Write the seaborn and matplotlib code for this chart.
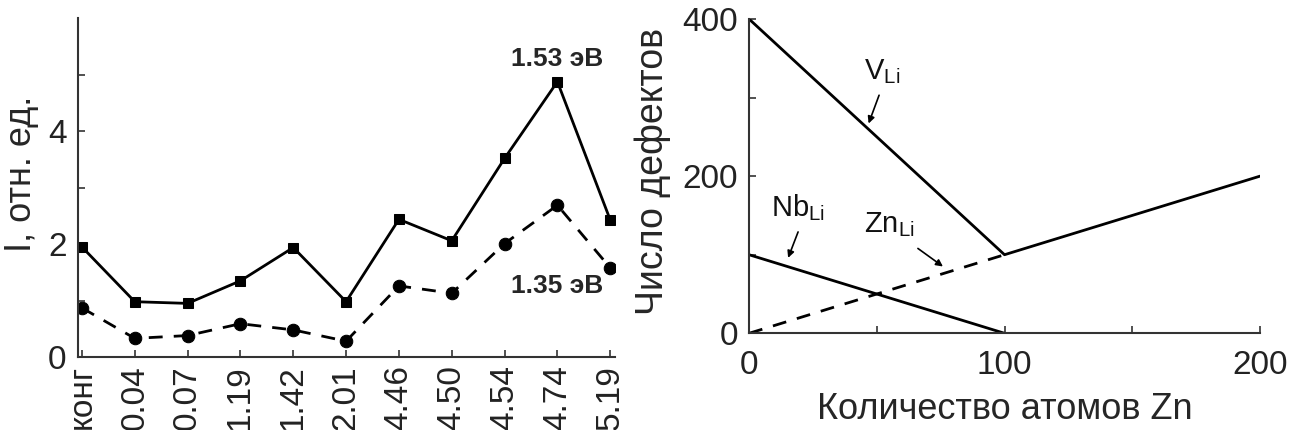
import numpy as np
import pandas as pd
import matplotlib
matplotlib.use("Agg")
import matplotlib.pyplot as plt
import seaborn as sns

# Left panel: intensity vs Zn concentration
conc_labels = ["конг", "0.04", "0.07", "1.19", "1.42", "2.01",
               "4.46", "4.50", "4.54", "4.74", "5.19"]
i_153 = [1.95, 0.98, 0.95, 1.35, 1.94, 0.98, 2.44, 2.06, 3.52, 4.88, 2.43]
i_135 = [0.87, 0.33, 0.38, 0.59, 0.48, 0.28, 1.26, 1.13, 2.01, 2.69, 1.58]

# Right panel: number of defects vs number of Zn atoms
zn_atoms = [0, 100, 200]
v_li = [400, 100, 200]
nb_atoms = [0, 100]
nb_li = [100, 0]
zn_li_atoms = [0, 100]
zn_li = [0, 100]

sns.set_style("ticks")
plt.rcParams["font.family"] = ["Liberation Sans", "DejaVu Sans"]
plt.rcParams["mathtext.fontset"] = "custom"
plt.rcParams["mathtext.rm"] = "Liberation Sans"

fig = plt.figure(figsize=(12.89, 4.30), dpi=100)
ax1 = fig.add_axes([0.0603, 0.1698, 0.4168, 0.7872])
ax2 = fig.add_axes([0.5811, 0.2249, 0.3964, 0.7309])

df = pd.DataFrame({"pos": np.arange(len(conc_labels)), "i153": i_153, "i135": i_135})
sns.lineplot(data=df, x="pos", y="i153", ax=ax1, color="black", lw=2,
             marker="s", markersize=7, markeredgecolor="black")
sns.lineplot(data=df, x="pos", y="i135", ax=ax1, color="black", lw=2,
             linestyle=(0, (5, 4)), marker="o", markersize=9, markeredgecolor="black")

ax1.set_xlim(-0.08, 10.09)
ax1.set_ylim(0, 6)
ax1.set_xticks(df["pos"])
ax1.set_xticklabels(conc_labels, rotation=90, fontsize=24)
ax1.set_yticks([0, 1, 2, 3, 4, 5])
ax1.set_yticklabels(["0", "", "2", "", "4", ""], fontsize=24)
ax1.set_xlabel("")
ax1.set_ylabel("I, отн. ед.", fontsize=26)
ax1.yaxis.set_label_coords(-0.072, 0.54)
ax1.text(9, 5.29, "1.53 эВ", fontsize=19, fontweight="bold", ha="center", va="center")
ax1.text(9, 1.26, "1.35 эВ", fontsize=19, fontweight="bold", ha="center", va="center")

sns.lineplot(x=zn_atoms, y=v_li, ax=ax2, color="black", lw=2)
sns.lineplot(x=nb_atoms, y=nb_li, ax=ax2, color="black", lw=2)
sns.lineplot(x=zn_li_atoms, y=zn_li, ax=ax2, color="black", lw=2, linestyle=(0, (5, 4)))

ax2.set_xlim(0, 200)
ax2.set_ylim(0, 400)
ax2.set_xticks([0, 50, 100, 150, 200])
ax2.set_xticklabels(["0", "", "100", "", "200"], fontsize=24)
ax2.set_yticks([0, 100, 200, 300, 400])
ax2.set_yticklabels(["0", "", "200", "", "400"], fontsize=24)
ax2.set_xlabel("Количество атомов Zn", fontsize=26, labelpad=8)
ax2.set_ylabel("Число дефектов", fontsize=27)
ax2.yaxis.set_label_coords(-0.152, 0.515)

arrow = dict(arrowstyle="-|>", color="black", lw=1.2, mutation_scale=10, shrinkA=0, shrinkB=0)
ax2.annotate(r"V$_{\mathrm{Li}}$", xy=(46.8, 267), xytext=(52, 333), fontsize=21,
             ha="center", va="center", color="#111111")
ax2.annotate("", xy=(46.8, 267), xytext=(50.9, 303), arrowprops=arrow)
ax2.annotate(r"Nb$_{\mathrm{Li}}$", xy=(15.3, 96), xytext=(19, 160), fontsize=21,
             ha="center", va="center", color="#111111")
ax2.annotate("", xy=(15.3, 96), xytext=(19.2, 129), arrowprops=arrow)
ax2.annotate(r"Zn$_{\mathrm{Li}}$", xy=(75.9, 85), xytext=(55, 138), fontsize=21,
             ha="center", va="center", color="#111111")
ax2.annotate("", xy=(75.9, 85), xytext=(66.1, 108), arrowprops=arrow)

for ax in (ax1, ax2):
    for side in ("top", "right"):
        ax.spines[side].set_visible(False)
    for side in ("left", "bottom"):
        ax.spines[side].set_color("#333333")
        ax.spines[side].set_linewidth(1.5)
    ax.tick_params(direction="in", length=5, width=1.2, color="#333333",
                   labelcolor="#222222")
ax1.tick_params(axis="y", pad=8)
ax1.tick_params(axis="x", pad=6)
ax2.tick_params(axis="y", pad=8)
ax2.tick_params(axis="x", pad=12)

fig.savefig("out.png", dpi=100)
